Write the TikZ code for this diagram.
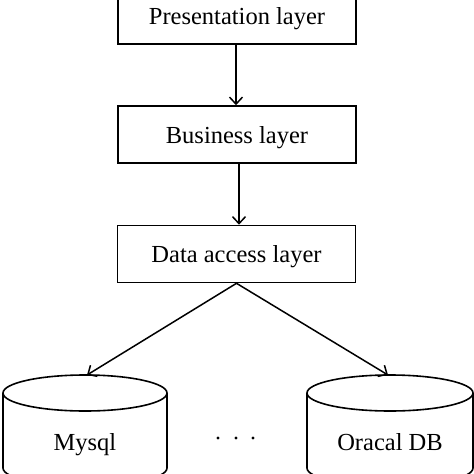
\documentclass[tikz,border=0pt]{standalone}
\usepackage{fontspec}
\setmainfont{Liberation Serif}
\usetikzlibrary{arrows.meta}
\begin{document}
\begin{tikzpicture}[x=1pt,y=-1pt,
  layerbox/.style={draw, line width=1.6pt, minimum width=238pt, minimum height=57pt, inner sep=0pt, text height=17pt, text depth=0pt, font=\fontsize{24.5}{28}\selectfont},
  lbl/.style={inner sep=0pt, anchor=base, font=\fontsize{24.5}{28}\selectfont},
  conn/.style={line width=1.5pt, -{Straight Barb[length=7pt,width=13pt,line width=1.5pt]}},
  cyl/.style={line width=1.6pt}]
\useasboundingbox (0,0) rectangle (474,474);
\clip (0,0) rectangle (474,474);
\fill[white] (0,0) rectangle (474,474);
\node[layerbox] (pl) at (237,15.5) {Presentation layer};
\node[layerbox] (bl) at (237,134.5) {Business layer};
\node[layerbox] (dal) at (236.5,254) {Data access layer};
% cylinders
\draw[cyl] (85,393) ellipse [x radius=82, y radius=18];
\draw[cyl] (3,393) -- (3,468) arc[start angle=180, end angle=0, x radius=82, y radius=18] -- (167,393);
\draw[cyl] (390,393) ellipse [x radius=83, y radius=18];
\draw[cyl] (307,393) -- (307,468) arc[start angle=180, end angle=0, x radius=83, y radius=18] -- (473,393);
\coordinate (mtop) at (87,375);
\coordinate (otop) at (388,375);
\node[lbl] (my) at (85,450) {Mysql};
\node[lbl] (or) at (390,450) {Oracal DB};
\fill (218,438) circle (1.7) (236,438) circle (1.7) (253,438) circle (1.7);
\draw[conn] (pl.south -| 236,0) -- (bl.north -| 236,0);
\draw[conn] (bl.south -| 239,0) -- (dal.north -| 239,0);
\draw[conn] (dal.south) -- (mtop);
\draw[conn] (dal.south) -- (otop);
\end{tikzpicture}
\end{document}
